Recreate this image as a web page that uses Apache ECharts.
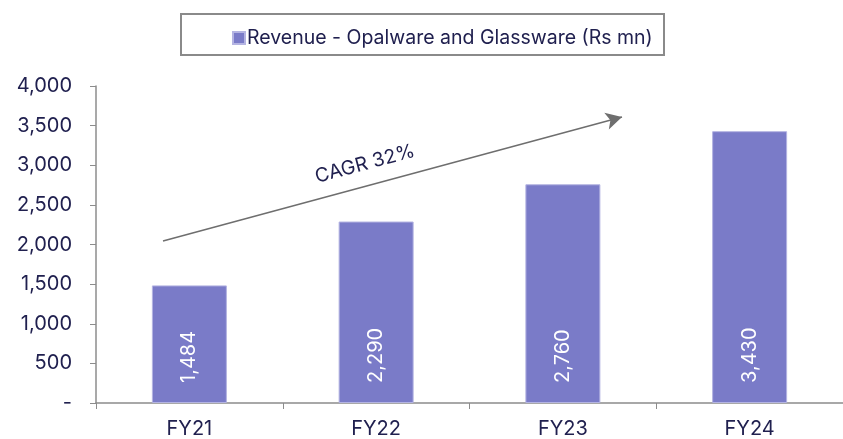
<!DOCTYPE html>
<html><head><meta charset="utf-8">
<script src="https://cdn.jsdelivr.net/npm/echarts@6/dist/echarts.min.js"></script>
<style>html,body{margin:0;padding:0;background:#fff}#c{width:843px;height:439px}</style>
</head><body><div id="c"></div>
<script>
const categories = ['FY21', 'FY22', 'FY23', 'FY24'];
const revenue = [1484, 2290, 2760, 3430];
const seriesName = 'Revenue - Opalware and Glassware (Rs mn)';
const cagrText = 'CAGR 32%';

const FONT = 'Inter';
const TXT = '#20204f';
const chart = echarts.init(document.getElementById('c'), null, {renderer: 'canvas'});
const fmt = v => v === 0 ? '-' : v.toLocaleString('en-US');
chart.setOption({
  animation: false,
  textStyle: {fontFamily: FONT},
  grid: {left: 96, top: 86, right: -8, bottom: 36, containLabel: false},
  legend: {
    data: [seriesName], left: 227, top: 23, itemWidth: 12, itemHeight: 12, itemGap: 4,
    icon: 'rect', textStyle: {fontFamily: FONT, fontSize: 19.5, color: TXT, padding: [0, 0, 0, -3]}
  },
  graphic: [
    {type: 'rect', shape: {x: 181, y: 14, width: 483, height: 41}, style: {fill: 'none', stroke: '#8a8a8a', lineWidth: 2}},
    {type: 'text', x: 365, y: 164, rotation: 15 * Math.PI / 180,
     style: {text: cagrText, font: '19.5px ' + FONT, fill: TXT, align: 'center', verticalAlign: 'middle'}}
  ],
  xAxis: {
    type: 'category', data: categories, boundaryGap: true,
    axisLine: {lineStyle: {color: '#8c8c8c', width: 1.5}},
    axisTick: {show: true, length: 6, lineStyle: {color: '#8c8c8c'}},
    axisLabel: {fontSize: 20, color: TXT, margin: 16, fontFamily: FONT}
  },
  yAxis: {
    type: 'value', min: 0, max: 4000, interval: 500,
    splitLine: {show: false},
    axisLine: {show: true, lineStyle: {color: '#8c8c8c', width: 1.5}},
    axisTick: {show: true, length: 6, lineStyle: {color: '#8c8c8c'}},
    axisLabel: {fontSize: 20, color: TXT, margin: 24, formatter: fmt, fontFamily: FONT}
  },
  series: [{
    name: seriesName, type: 'bar', data: revenue, barWidth: 75,
    itemStyle: {color: '#7a7bc8', borderColor: '#b4b4e2', borderWidth: 1},
    label: {
      show: true, position: 'insideBottom', rotate: 90, align: 'left', verticalAlign: 'middle',
      distance: 20, color: '#fff', fontSize: 20, fontFamily: FONT, formatter: p => fmt(p.value)
    },
    markLine: {
      silent: true, symbol: ['none', 'arrow'], symbolSize: [13, 16],
      label: {show: false},
      lineStyle: {color: '#6e6e6e', width: 1.5, type: 'solid'},
      data: [[{x: 163, y: 241}, {x: 622, y: 117}]]
    }
  }]
});
</script></body></html>
